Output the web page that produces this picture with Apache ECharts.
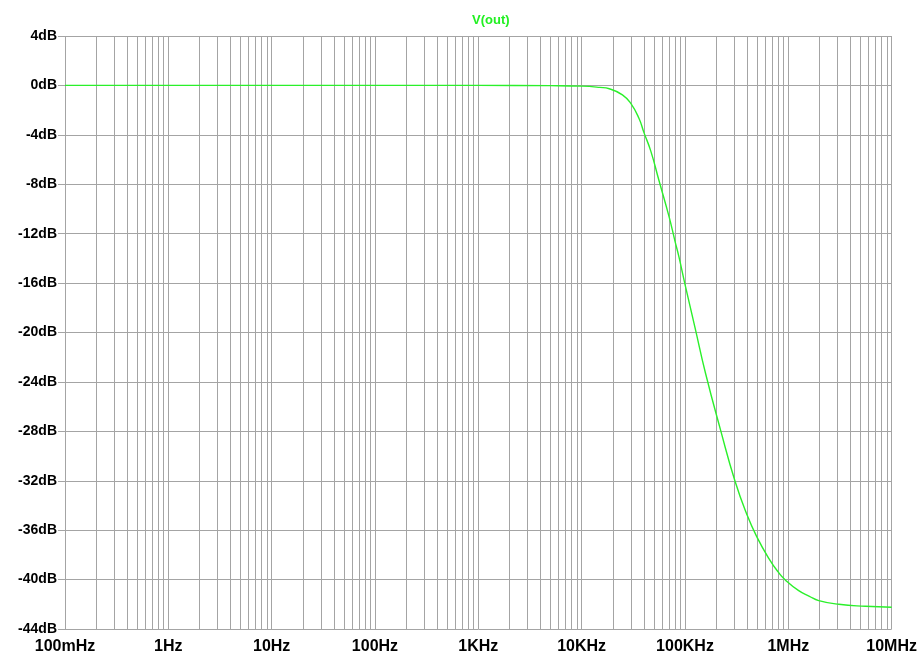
<!DOCTYPE html>
<html>
<head>
<meta charset="utf-8">
<script src="https://cdn.jsdelivr.net/npm/echarts@6/dist/echarts.min.js"></script>
<style>
  html, body { margin: 0; padding: 0; background: #fff; }
  #chart { width: 920px; height: 657px; }
</style>
</head>
<body>
<div id="chart"></div>
<script>
// frequency (Hz) and gain (dB)
const freqs = [0.1, 1, 10, 100, 1000, 5000, 10000, 15000, 18500, 24800, 30000, 36000, 40000, 46600, 56000, 70000, 80000, 87500, 100000, 125000, 158000, 221000, 304000, 400000, 500000, 649000, 800000, 940000, 1260000, 1600000, 1970000, 3080000, 5570000, 10000000]
const gainDb = [0, 0, 0, 0, 0, -0.02, -0.06, -0.16, -0.27, -0.76, -1.48, -2.7, -3.8, -5.3, -7.7, -10.6, -12.6, -13.9, -16.1, -19.6, -23.3, -27.9, -32.0, -34.8, -36.6, -38.3, -39.4, -40.05, -40.9, -41.35, -41.7, -42.0, -42.16, -42.24]

const xTickLabels = ['100mHz', '1Hz', '10Hz', '100Hz', '1KHz', '10KHz', '100KHz', '1MHz', '10MHz']
const yTicks = [4, 0, -4, -8, -12, -16, -20, -24, -28, -32, -36, -40, -44]

// gridlines at 2..9 x each decade
const minorGrid = []
for (let d = -1; d < 7; d++) {
  for (let m = 2; m <= 9; m++) minorGrid.push(m * Math.pow(10, d))
}

const gridColor = '#a4a4a4'
const fontFamily = 'Liberation Sans, Arial, sans-serif'

const chart = echarts.init(document.getElementById('chart'))

chart.setOption({
  animation: false,
  title: {
    text: 'V(out)',
    left: 467,
    top: 9,
    textStyle: { color: '#22f022', fontWeight: 'bold', fontSize: 13, fontFamily }
  },
  grid: { left: 65, right: 27, top: 36, bottom: 28, containLabel: false },
  xAxis: {
    type: 'log',
    logBase: 10,
    min: 0.1,
    max: 1e7,
    splitNumber: 8,
    axisLine: { show: false },
    axisTick: { show: true, length: 6, lineStyle: { color: gridColor } },
    axisLabel: {
      color: '#000',
      fontWeight: 'bold',
      fontSize: 16,
      fontFamily,
      margin: 10,
      formatter: v => xTickLabels[Math.round(Math.log10(v)) + 1] || ''
    },
    splitLine: { show: true, lineStyle: { color: gridColor, width: 1 } }
  },
  yAxis: {
    type: 'value',
    min: -44,
    max: 4,
    interval: 4,
    axisLine: { show: false },
    axisTick: { show: true, length: 7, lineStyle: { color: gridColor } },
    axisLabel: {
      color: '#000',
      fontWeight: 'bold',
      fontSize: 14,
      fontFamily,
      margin: 8,
      formatter: v => (yTicks.includes(v) ? v + 'dB' : '')
    },
    splitLine: { show: true, lineStyle: { color: gridColor, width: 1 } }
  },
  series: [
    {
      name: 'V(out)',
      type: 'line',
      data: freqs.map((f, i) => [f, gainDb[i]]),
      smooth: 0.5,
      showSymbol: false,
      lineStyle: { color: '#2af02a', width: 1.4 },
      z: 5,
      markLine: {
        silent: true,
        symbol: 'none',
        label: { show: false },
        lineStyle: { color: gridColor, type: 'solid', width: 1 },
        data: minorGrid.map(f => ({ xAxis: f }))
      }
    }
  ]
})
</script>
</body>
</html>
